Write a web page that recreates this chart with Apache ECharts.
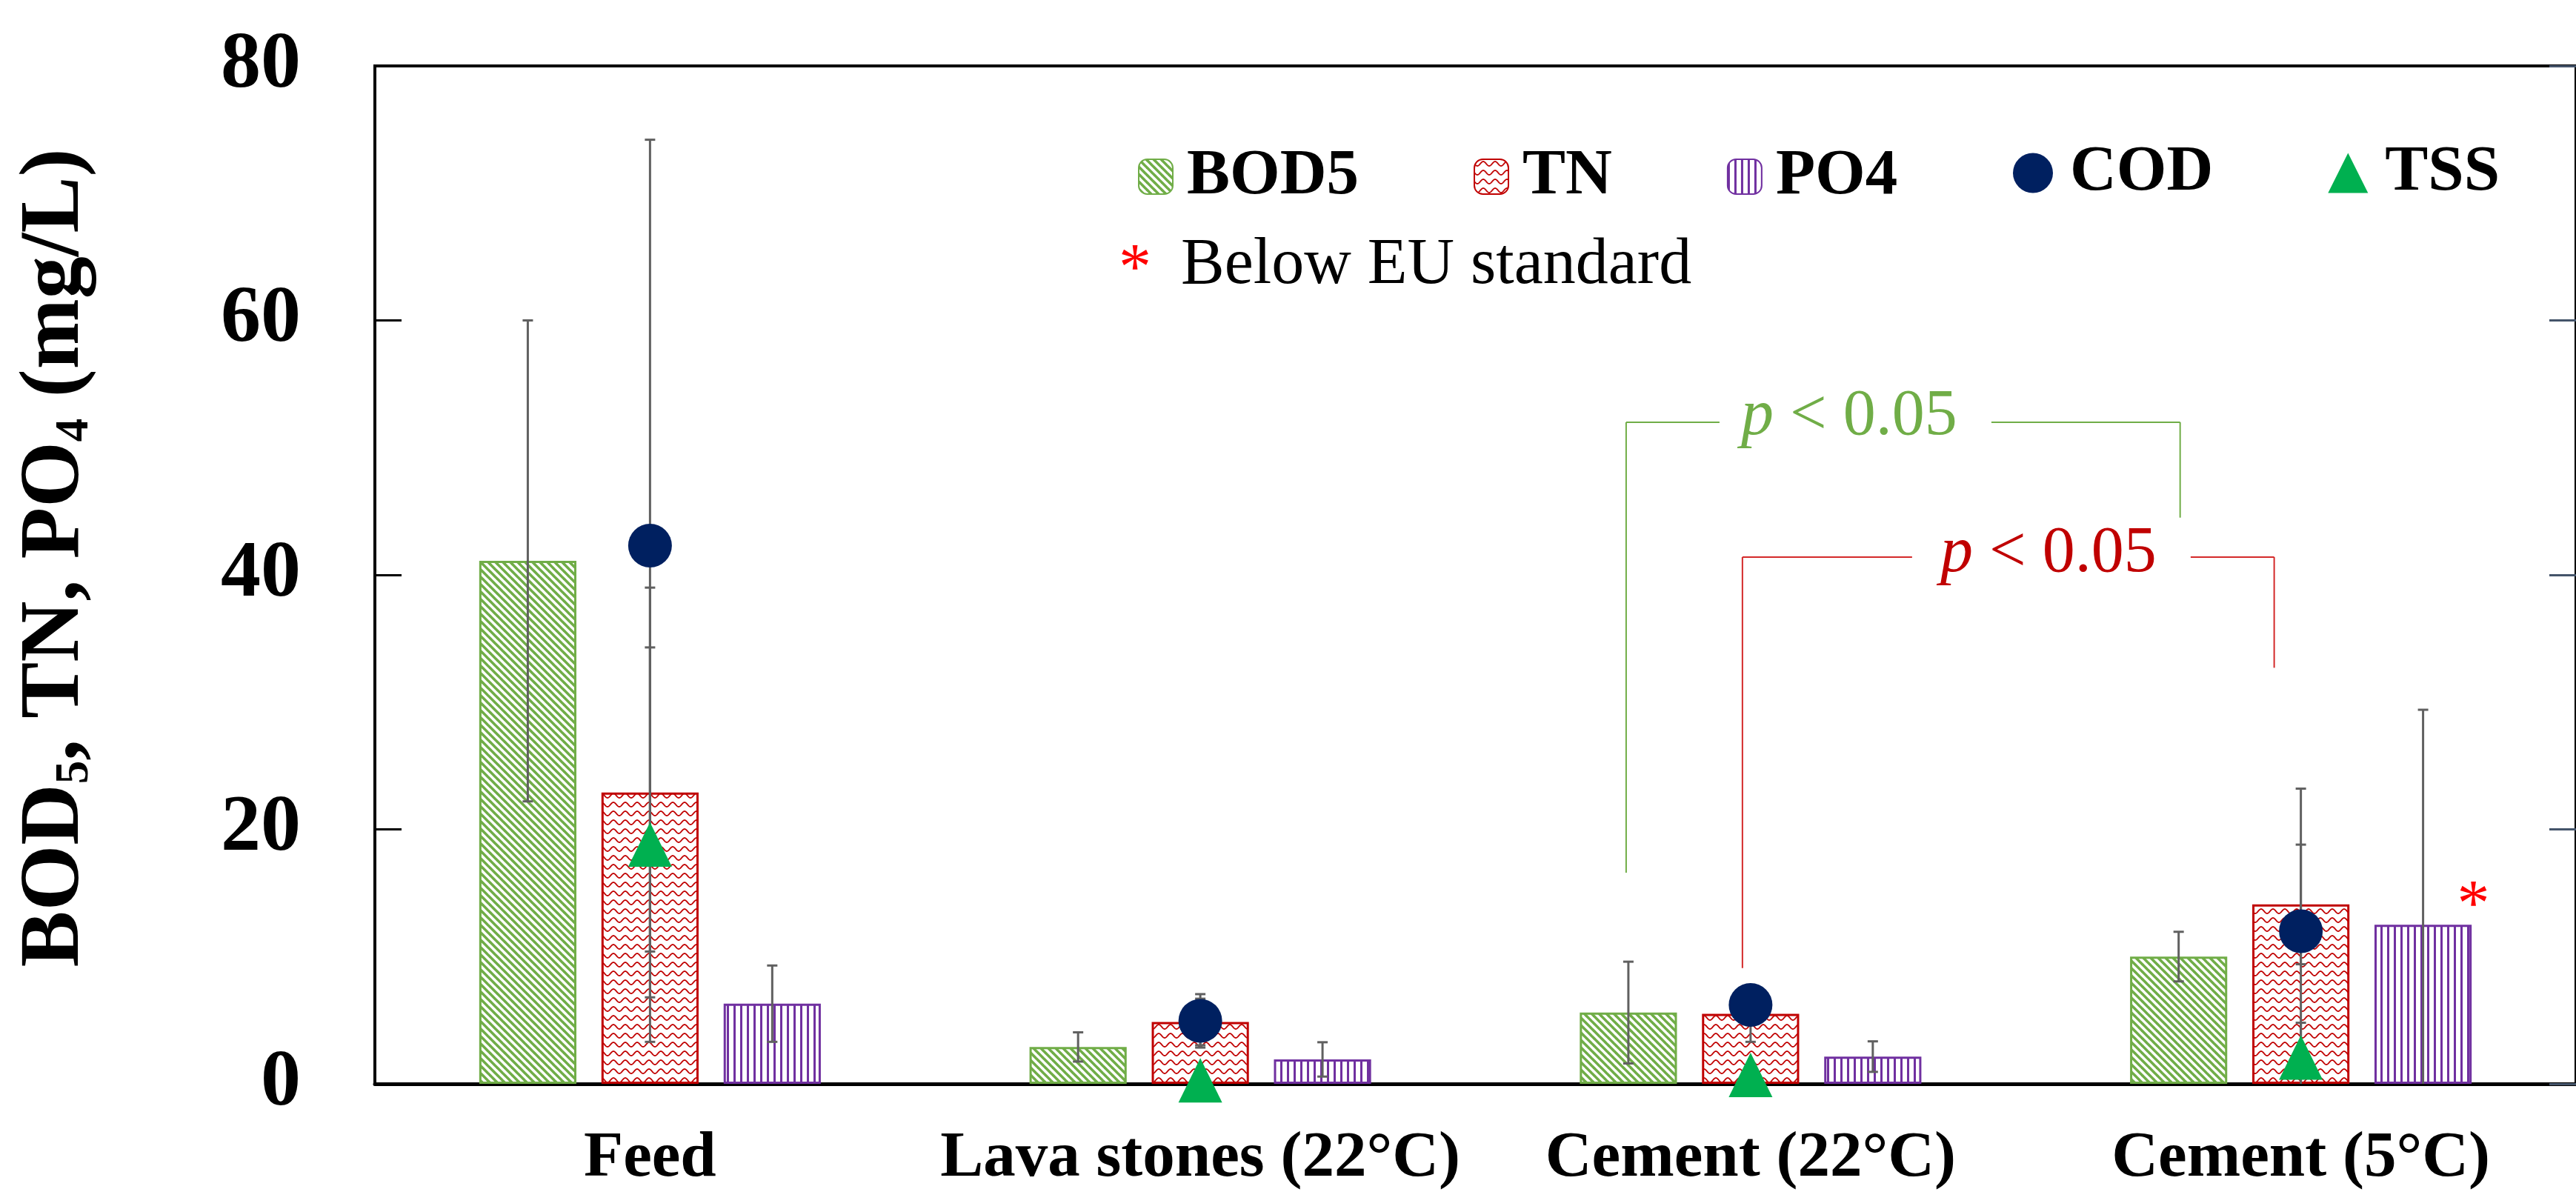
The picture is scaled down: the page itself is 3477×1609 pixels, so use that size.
<!DOCTYPE html>
<html>
<head>
<meta charset="utf-8">
<script src="https://cdn.jsdelivr.net/npm/echarts@6/dist/echarts.min.js"></script>
<style>
html,body{margin:0;padding:0;background:#fff;}
#chart{width:3477px;height:1609px;}
</style>
</head>
<body>
<div id="chart"></div>
<script>
// ---------------- data ----------------
const categories = ['Feed', 'Lava stones (22°C)', 'Cement (22°C)', 'Cement (5°C)'];
const bod5   = [41.1, 2.9, 5.6, 10.0];
const bod5Sd = [18.9, 1.15, 4.0, 1.95];
const tn     = [22.9, 4.86, 5.5, 14.1];
const tnSd   = [16.1, 1.83, 2.2, 4.7];
const po4    = [6.3, 1.92, 2.14, 12.5];
const po4Sd  = [3.0, 1.35, 1.2, 16.9];
const cod    = [42.3, 4.95, 6.2, 12.0];
const codSd  = [31.9, 2.1, 1.2, 11.2];
const tss    = [18.8, 0.27, 0.7, 2.06];
const tssSd  = [15.5, 0.5, 0.5, 2.74];
const po4BelowEU = [false, false, false, true];
const yTickValues = [0, 20, 40, 60, 80];
// significance brackets: categories joined, leg ends (mg/L), bracket top (mg/L)
const pLabels      = ['p < 0.05', 'p < 0.05'];
const pFromCat     = [2, 2];
const pToCat       = [3, 3];
const pLeftEnd     = [16.6, 9.1];
const pRightEnd    = [44.5, 32.7];
const pTop         = [52.0, 41.4];

// ---------------- styles ----------------
const FONT = '"Liberation Serif", "Times New Roman", serif';
const C_BOD = '#70AD47', C_TN = '#C00000', C_PO = '#7030A0', C_COD = '#002060', C_TSS = '#00B050';
const C_ERR = '#606060';
const BAR_W = 0.1766;         // fraction of category width
const BAR_GAP = 0.2576;       // fraction of bar width
const SLOT = BAR_W * (1 + BAR_GAP);
// bracket styling (pixel offsets relative to the legs)
const bracketStyle = [
  {color: C_BOD, textColor: '#70AD47', leftSlot: -1, rightSlot: -1, leftDx: -3, rightDx: 2, seg1: 126, textDx: 301, seg2: 493, textDy: -7},
  {color: '#D42A2A', textColor: '#C00000', leftSlot: 0, rightSlot: 0, leftDx: -11, rightDx: -36, seg1: 229, textDx: 413, seg2: 605, textDy: -4}
];

function makePattern(kind) {
  const cv = document.createElement('canvas');
  let w, h;
  if (kind === 'diag') { w = 10; h = 10; }
  else if (kind === 'wave') { w = 16; h = 12; }
  else { w = 9; h = 9; }
  cv.width = w; cv.height = h;
  const g = cv.getContext('2d');
  g.fillStyle = '#fff'; g.fillRect(0, 0, w, h);
  if (kind === 'diag') {
    g.strokeStyle = C_BOD; g.lineWidth = 3.6;
    for (let k = -2; k <= 2; k++) {
      g.beginPath(); g.moveTo(k * w - 2, -2); g.lineTo(k * w + w + 2, h + 2); g.stroke();
    }
  } else if (kind === 'wave') {
    g.strokeStyle = C_TN; g.lineWidth = 1.8;
    g.beginPath();
    for (let x = -1; x <= w + 1; x += 0.5) {
      const y = 6 + 3 * Math.sin(x / w * Math.PI * 2);
      if (x === -1) g.moveTo(x, y); else g.lineTo(x, y);
    }
    g.stroke();
  } else {
    g.fillStyle = C_PO; g.fillRect(0, 0, 3, h);
  }
  return {image: cv, repeat: 'repeat'};
}

function errorSeries(name, vals, sds, slot, z) {
  return {
    type: 'custom', name: name + ' err', z: z, silent: true,
    data: vals.map((v, i) => [i, v]),
    renderItem: function (params, api) {
      const i = params.dataIndex;
      const c = api.coord([i, vals[i]]);
      const catW = api.size([1, 0])[0];
      const x = c[0] + slot * SLOT * catW;
      const hi = vals[i] + sds[i];
      const lo = vals[i] - sds[i];
      const yHi = api.coord([i, hi])[1];
      const yLo = api.coord([i, Math.max(0, lo)])[1];
      const cap = 7;
      const st = {stroke: C_ERR, lineWidth: 3};
      const ch = [
        {type: 'line', shape: {x1: x, y1: yHi, x2: x, y2: yLo}, style: st},
        {type: 'line', shape: {x1: x - cap, y1: yHi, x2: x + cap, y2: yHi}, style: st}
      ];
      if (lo >= 0) ch.push({type: 'line', shape: {x1: x - cap, y1: yLo, x2: x + cap, y2: yLo}, style: st});
      return {type: 'group', children: ch};
    }
  };
}

function pRich(label) {
  // italic leading "p"
  return label.replace(/^p/, '{i|p}');
}

const bracketSeries = {
  type: 'custom', name: 'brackets', z: 6, silent: true,
  data: pLabels.map((l, k) => [pFromCat[k], pTop[k]]),
  renderItem: function (params, api) {
    const k = params.dataIndex;
    const s = bracketStyle[k];
    const catW = api.size([1, 0])[0];
    const xL = api.coord([pFromCat[k], 0])[0] + s.leftSlot * SLOT * catW + s.leftDx;
    const xR = api.coord([pToCat[k], 0])[0] + s.rightSlot * SLOT * catW + s.rightDx;
    const yT = api.coord([pFromCat[k], pTop[k]])[1];
    const yLB = api.coord([pFromCat[k], pLeftEnd[k]])[1];
    const yRB = api.coord([pToCat[k], pRightEnd[k]])[1];
    const st = {stroke: s.color, lineWidth: 2};
    return {type: 'group', children: [
      {type: 'line', shape: {x1: xL, y1: yLB, x2: xL, y2: yT}, style: st},
      {type: 'line', shape: {x1: xL, y1: yT, x2: xL + s.seg1, y2: yT}, style: st},
      {type: 'line', shape: {x1: xL + s.seg2, y1: yT, x2: xR, y2: yT}, style: st},
      {type: 'line', shape: {x1: xR, y1: yT, x2: xR, y2: yRB}, style: st},
      {type: 'text', x: xL + s.textDx, y: yT + s.textDy, style: {
        text: pRich(pLabels[k]),
        fill: s.textColor, font: '88px ' + FONT, align: 'center', verticalAlign: 'middle',
        rich: {i: {fontStyle: 'italic', fontSize: 88, fontFamily: FONT, fill: s.textColor}}
      }}
    ]};
  }
};

const chart = echarts.init(document.getElementById('chart'), null, {renderer: 'canvas'});

const legendText = {fontFamily: FONT, fontWeight: 'bold', fontSize: 87, color: '#000'};

const option = {
  backgroundColor: '#fff',
  animation: false,
  grid: {left: 506, top: 89, width: 2990, height: 1374, show: true, borderColor: '#000', borderWidth: 4, backgroundColor: 'transparent'},
  legend: [
    {data: ['BOD5', 'TN', 'PO4'], left: 1536, top: 195, padding: 0, itemWidth: 46, itemHeight: 47, itemGap: 155,
     textStyle: Object.assign({padding: [0, 0, 0, 14]}, legendText), selectedMode: false},
    {data: ['COD', 'TSS'], left: 2717, top: 190, padding: 0, itemWidth: 54, itemHeight: 54, itemGap: 155,
     textStyle: Object.assign({padding: [0, 0, 0, 18]}, legendText), selectedMode: false}
  ],
  graphic: [
    {type: 'text', left: 1510, top: 322, style: {text: '*', fill: '#FF0000', font: '88px ' + FONT}},
    {type: 'text', left: 1594, top: 315, style: {text: 'Below EU standard', fill: '#000', font: '88px ' + FONT}}
  ],
  xAxis: {
    type: 'category', data: categories,
    axisLine: {lineStyle: {color: '#000', width: 5}},
    axisTick: {show: false},
    axisLabel: {fontFamily: FONT, fontWeight: 'bold', fontSize: 87, color: '#000', margin: 58, lineHeight: 87, interval: 0}
  },
  yAxis: [
    {
      type: 'value', min: yTickValues[0], max: yTickValues[yTickValues.length - 1], interval: yTickValues[1] - yTickValues[0],
      axisLine: {show: true, lineStyle: {color: '#000', width: 4}},
      axisTick: {show: true, inside: true, length: 36, lineStyle: {color: '#000', width: 3}},
      splitLine: {show: false},
      axisLabel: {fontFamily: FONT, fontWeight: 'bold', fontSize: 108, color: '#000', margin: 100},
      name: '{b|BOD}{s|5}{b|, TN, PO}{s|4}{b| (mg/L)}',
      nameLocation: 'middle', nameGap: 373, nameRotate: 90,
      nameTextStyle: {
        padding: [0, 0, 0, 46],
        rich: {
          b: {fontFamily: FONT, fontWeight: 'bold', fontSize: 114, lineHeight: 114, color: '#000'},
          s: {fontFamily: FONT, fontWeight: 'bold', fontSize: 63, lineHeight: 63, color: '#000', verticalAlign: 'bottom'}
        }
      }
    },
    {
      type: 'value', position: 'right', min: yTickValues[0], max: yTickValues[yTickValues.length - 1], interval: yTickValues[1] - yTickValues[0],
      axisLine: {show: false},
      axisTick: {show: true, inside: true, length: 36, lineStyle: {color: '#44546A', width: 3}},
      axisLabel: {show: false}, splitLine: {show: false}
    }
  ],
  series: [
    {type: 'bar', name: 'BOD5', data: bod5, barWidth: (BAR_W * 100) + '%', barGap: (BAR_GAP * 100) + '%', z: 2,
     itemStyle: {color: makePattern('diag'), borderColor: C_BOD, borderWidth: 3}},
    {type: 'bar', name: 'TN', data: tn, barWidth: (BAR_W * 100) + '%', barGap: (BAR_GAP * 100) + '%', z: 2,
     itemStyle: {color: makePattern('wave'), borderColor: C_TN, borderWidth: 3}},
    {type: 'bar', name: 'PO4', barWidth: (BAR_W * 100) + '%', barGap: (BAR_GAP * 100) + '%', z: 2,
     data: po4.map((v, i) => po4BelowEU[i] ? {value: v, label: {show: true, formatter: '*', position: 'top', distance: 0, offset: [68, 21],
        fontFamily: FONT, fontSize: 88, color: '#FF0000', lineHeight: 88}} : v),
     itemStyle: {color: makePattern('vert'), borderColor: C_PO, borderWidth: 3}},
    errorSeries('BOD5', bod5, bod5Sd, -1, 3),
    errorSeries('TN', tn, tnSd, 0, 3),
    errorSeries('PO4', po4, po4Sd, 1, 3),
    errorSeries('COD', cod, codSd, 0, 3),
    errorSeries('TSS', tss, tssSd, 0, 3),
    {type: 'scatter', name: 'COD', data: cod, symbol: 'circle', symbolSize: 59, z: 5, clip: false,
     itemStyle: {color: C_COD, opacity: 1}},
    {type: 'scatter', name: 'TSS', data: tss, symbol: 'triangle', symbolSize: [59, 60], z: 5, clip: false,
     itemStyle: {color: C_TSS, opacity: 1}},
    bracketSeries
  ]
};
chart.setOption(option);
</script>
</body>
</html>
